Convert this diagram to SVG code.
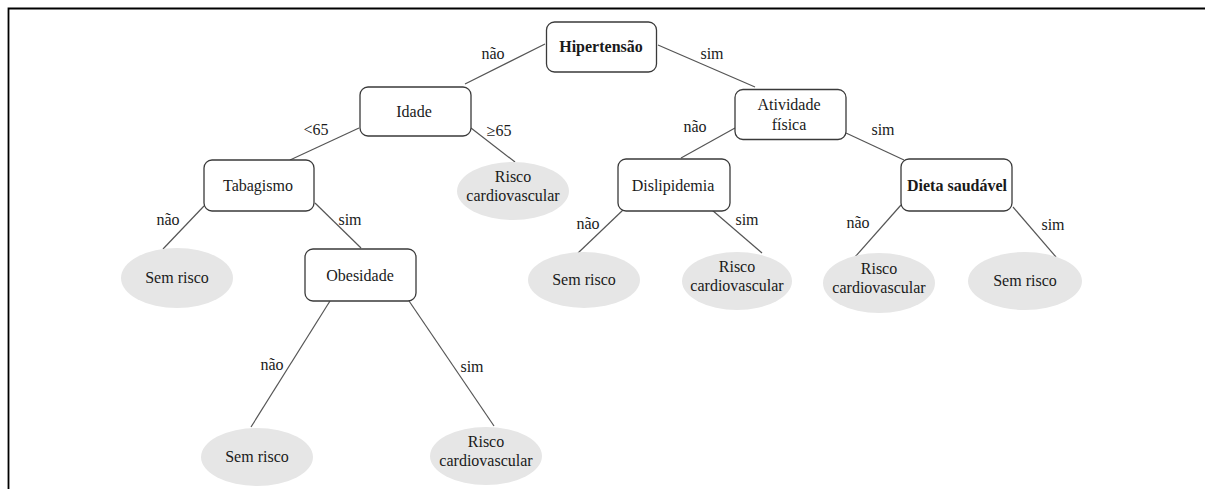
<svg xmlns="http://www.w3.org/2000/svg" width="1205" height="489" viewBox="0 0 1205 489">
<style>
text{font-family:"Liberation Serif","Times New Roman",serif;font-size:16px;fill:#1a1a1a;text-anchor:middle}
.b{font-weight:bold}
.box{fill:#fff;stroke:#3a3a3a;stroke-width:1.3}
.leaf{fill:#e6e6e6;stroke:none}
.edge{stroke:#555;stroke-width:1.2;fill:none}
.frame{stroke:#000;stroke-width:1.8;fill:none}
</style>
<rect width="1205" height="489" fill="#fff"/>
<path class="frame" d="M8.5 489 V8.5 H1205"/>
<g id="connectors">
<line class="edge" x1="545" y1="44" x2="465" y2="84"/>
<line class="edge" x1="658" y1="45" x2="755" y2="87"/>
<line class="edge" x1="359" y1="128" x2="290" y2="160"/>
<line class="edge" x1="471" y1="128" x2="515" y2="162"/>
<line class="edge" x1="735" y1="128" x2="681" y2="158"/>
<line class="edge" x1="846" y1="133" x2="904" y2="160"/>
<line class="edge" x1="204" y1="206" x2="163" y2="249"/>
<line class="edge" x1="315" y1="203" x2="361" y2="248"/>
<line class="edge" x1="330" y1="301" x2="251" y2="427"/>
<line class="edge" x1="407" y1="298" x2="494" y2="426"/>
<line class="edge" x1="623" y1="210" x2="578" y2="253"/>
<line class="edge" x1="712" y1="210" x2="762" y2="253"/>
<line class="edge" x1="901" y1="205" x2="855" y2="257"/>
<line class="edge" x1="1013" y1="207" x2="1056" y2="257"/>
<text x="493" y="59">não</text>
<text x="712" y="59">sim</text>
<text x="316" y="135">&lt;65</text>
<text x="499" y="136">≥65</text>
<text x="695" y="132">não</text>
<text x="883" y="135">sim</text>
<text x="168" y="225">não</text>
<text x="350" y="225">sim</text>
<text x="588" y="229">não</text>
<text x="747" y="225">sim</text>
<text x="858" y="228">não</text>
<text x="1053" y="230">sim</text>
<text x="272" y="370">não</text>
<text x="472" y="372">sim</text>
</g>
<g id="n-hipertensao"><rect class="box" x="546.5" y="22" width="110" height="50" rx="8"/><text class="b" x="601" y="52">Hipertensão</text></g>
<g id="n-idade"><rect class="box" x="360" y="87" width="111" height="49" rx="8"/><text x="414" y="117">Idade</text></g>
<g id="n-atividade"><rect class="box" x="735" y="89.5" width="111" height="50" rx="8"/><text x="789" y="110">Atividade</text><text x="789" y="130">física</text></g>
<g id="n-tabagismo"><rect class="box" x="204" y="160" width="110" height="51" rx="8"/><text x="258" y="191">Tabagismo</text></g>
<g id="n-obesidade"><rect class="box" x="305" y="249" width="111" height="52" rx="8"/><text x="360" y="281">Obesidade</text></g>
<g id="n-dislipidemia"><rect class="box" x="618" y="159" width="112" height="52" rx="8"/><text x="673" y="191">Dislipidemia</text></g>
<g id="n-dieta"><rect class="box" x="901" y="159" width="111" height="52" rx="8"/><text class="b" x="957" y="191">Dieta saudável</text></g>
<g id="l-risco1"><ellipse class="leaf" cx="513" cy="191" rx="56" ry="29"/><text x="513" y="182">Risco</text><text x="513" y="201">cardiovascular</text></g>
<g id="l-sem1"><ellipse class="leaf" cx="177" cy="278" rx="56" ry="30"/><text x="177" y="283">Sem risco</text></g>
<g id="l-sem2"><ellipse class="leaf" cx="584" cy="280" rx="56" ry="28"/><text x="584" y="285">Sem risco</text></g>
<g id="l-risco2"><ellipse class="leaf" cx="737" cy="281" rx="55" ry="29"/><text x="737" y="272">Risco</text><text x="737" y="291">cardiovascular</text></g>
<g id="l-risco3"><ellipse class="leaf" cx="879" cy="283" rx="56" ry="30"/><text x="879" y="274">Risco</text><text x="879" y="293">cardiovascular</text></g>
<g id="l-sem3"><ellipse class="leaf" cx="1025" cy="281" rx="57" ry="29"/><text x="1025" y="286">Sem risco</text></g>
<g id="l-sem4"><ellipse class="leaf" cx="257" cy="457" rx="56" ry="29"/><text x="257" y="462">Sem risco</text></g>
<g id="l-risco4"><ellipse class="leaf" cx="486" cy="456" rx="56" ry="29"/><text x="486" y="447">Risco</text><text x="486" y="466">cardiovascular</text></g>
</svg>
